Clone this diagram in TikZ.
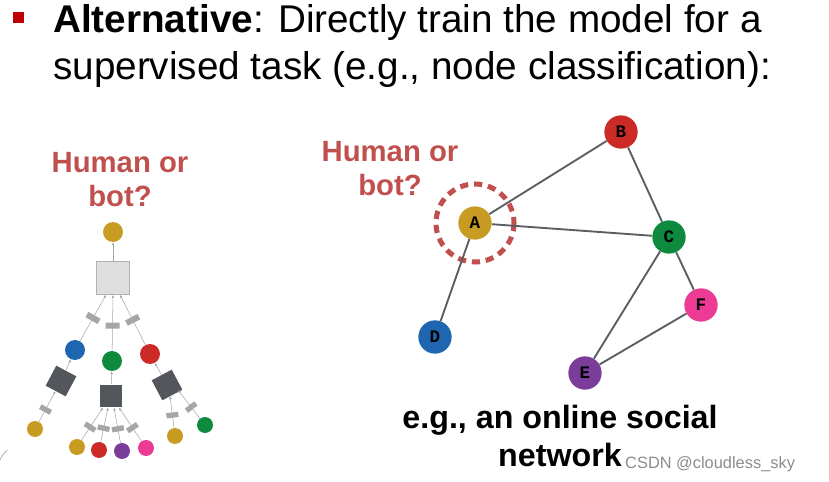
\documentclass[tikz,border=0pt]{standalone}
\usepackage{fontspec}
\setmainfont{Liberation Sans}
\newfontfamily\codefont{Liberation Mono}
\usetikzlibrary{arrows.meta,calc,positioning}
\definecolor{botred}{RGB}{192,80,77}
\definecolor{bulletred}{RGB}{192,0,0}
\definecolor{cgold}{RGB}{200,155,35}
\definecolor{cred}{RGB}{204,42,39}
\definecolor{cgreen}{RGB}{14,138,62}
\definecolor{cblue}{RGB}{31,102,176}
\definecolor{cpurple}{RGB}{122,62,154}
\definecolor{cpink}{RGB}{236,58,149}
\definecolor{edgegray}{RGB}{90,94,98}
\definecolor{aggdark}{RGB}{83,86,90}

\begin{document}
\begin{tikzpicture}[x=0.03cm,y=-0.03cm,
    dot/.style={circle,inner sep=0pt,minimum size=#1*0.03cm},
    gnode/.style={circle,inner sep=0pt,minimum size=1.0cm,
                  font=\codefont\bfseries\fontsize{15}{15}\selectfont},
    agg/.style={draw=none,fill=aggdark,minimum size=0.68cm,inner sep=0pt},
    wrect/.style={fill=black!35,minimum height=0.42cm,minimum width=0.18cm,inner sep=0pt},
    wsmall/.style={wrect,minimum height=0.36cm,minimum width=0.16cm},
    msg/.style={-{Latex[length=0.9mm,width=0.8mm]},black!35,line width=0.45pt},
    link/.style={edgegray,line width=1.6pt}
  ]
    \useasboundingbox (0,0) rectangle (829,482);
    % title
    \fill[bulletred] (13,12) rectangle (24,23);
    \node[anchor=base west,inner sep=0pt,font=\fontsize{33}{40}\selectfont] (t1) at (53,33)
      {\textbf{Alternative}: Directly train the model for a};
    \node[anchor=base west,inner sep=0pt,font=\fontsize{33}{40}\selectfont] (t2) at (53,80)
      {supervised task (e.g., node classification):};

    % computation graph of the target node
    \node[align=center,text=botred,font=\bfseries\fontsize{25}{29}\selectfont] (q1) at (120,180) {Human or\\bot?};
    \node[dot=20,fill=cgold] (top) at (113,232) {};
    \node[draw=black!30,fill=black!13,minimum size=1.0cm,inner sep=0pt] (sq) at (113,278) {};
    \node[dot=20,fill=cblue] (nb) at (75,350) {};
    \node[dot=20,fill=cgreen] (nc) at (112,361) {};
    \node[dot=20,fill=cred] (nr) at (150,354) {};
    \node[agg,rotate=-28] (ab) at (61,381) {};
    \node[agg] (ac) at (111,396) {};
    \node[agg,rotate=28] (ar) at (167,385) {};
    \node[dot=16,fill=cgold] (l1) at (35,429) {};
    \node[dot=16,fill=cgold] (l2) at (77,447) {};
    \node[dot=16,fill=cred] (l3) at (99,450) {};
    \node[dot=16,fill=cpurple] (l4) at (122,451) {};
    \node[dot=16,fill=cpink] (l5) at (146,448) {};
    \node[dot=16,fill=cgold] (l6) at (175,436) {};
    \node[dot=16,fill=cgreen] (l7) at (205,425) {};
    \draw[msg] (sq) -- (top);
    \draw[msg] (nb) -- node[wrect,sloped] {} ($(sq.south)+(-7,0)$);
    \draw[msg] (nc) -- node[wrect,sloped,pos=0.45] {} (sq.south);
    \draw[msg] (nr) -- node[wrect,sloped] {} ($(sq.south)+(7,0)$);
    \draw[msg] (ab) -- (nb);
    \draw[msg] (ac) -- (nc);
    \draw[msg] (ar) -- (nr);
    \draw[msg] (l1) -- node[wsmall,sloped,pos=0.4] {} (ab);
    \draw[msg] (l2) -- node[wsmall,sloped,pos=0.4] {} ($(ac.south)+(-8,0)$);
    \draw[msg] (l3) -- node[wsmall,sloped,pos=0.4] {} ($(ac.south)+(-3,0)$);
    \draw[msg] (l4) -- node[wsmall,sloped,pos=0.4] {} ($(ac.south)+(3,0)$);
    \draw[msg] (l5) -- node[wsmall,sloped,pos=0.4] {} ($(ac.south)+(8,0)$);
    \draw[msg] (l6) -- node[wsmall,sloped,pos=0.4] {} ($(ar.center)+(3,11)$);
    \draw[msg] (l7) -- node[wsmall,sloped,pos=0.4] {} ($(ar.center)+(11,5)$);
    \draw[black!35,line width=0.6pt] (0,460) arc[start angle=200,end angle=235,radius=20];

    % input graph
    \node[align=center,text=botred,font=\bfseries\fontsize{25}{29}\selectfont] (q2) at (390,169) {Human or\\bot?};
    \node[gnode,fill=cgold] (A) at (475,223) {A};
    \node[gnode,fill=cred] (B) at (621,132) {B};
    \node[gnode,fill=cgreen] (C) at (669,237) {C};
    \node[gnode,fill=cblue] (D) at (435,337) {D};
    \node[gnode,fill=cpurple] (E) at (585,373) {E};
    \node[gnode,fill=cpink] (F) at (701,305) {F};
    \draw[botred,line width=4.3pt,dash pattern=on 7pt off 5pt] (A) circle[radius=39];
    \draw[link] (A) -- (B);
    \draw[link] (A) -- (C);
    \draw[link] (A) -- (D);
    \draw[link] (B) -- (C);
    \draw[link] (C) -- (E);
    \draw[link] (C) -- (F);
    \draw[link] (E) -- (F);
    \node[align=center,font=\bfseries\fontsize{27.5}{32}\selectfont] (cap) at (560,436) {e.g., an online social\\network};
    \node[anchor=base west,inner sep=0pt,text=black!45,font=\fontsize{14}{14}\selectfont] (wm) at (625,468) {CSDN @cloudless\_sky};
  \end{tikzpicture}
\end{document}
